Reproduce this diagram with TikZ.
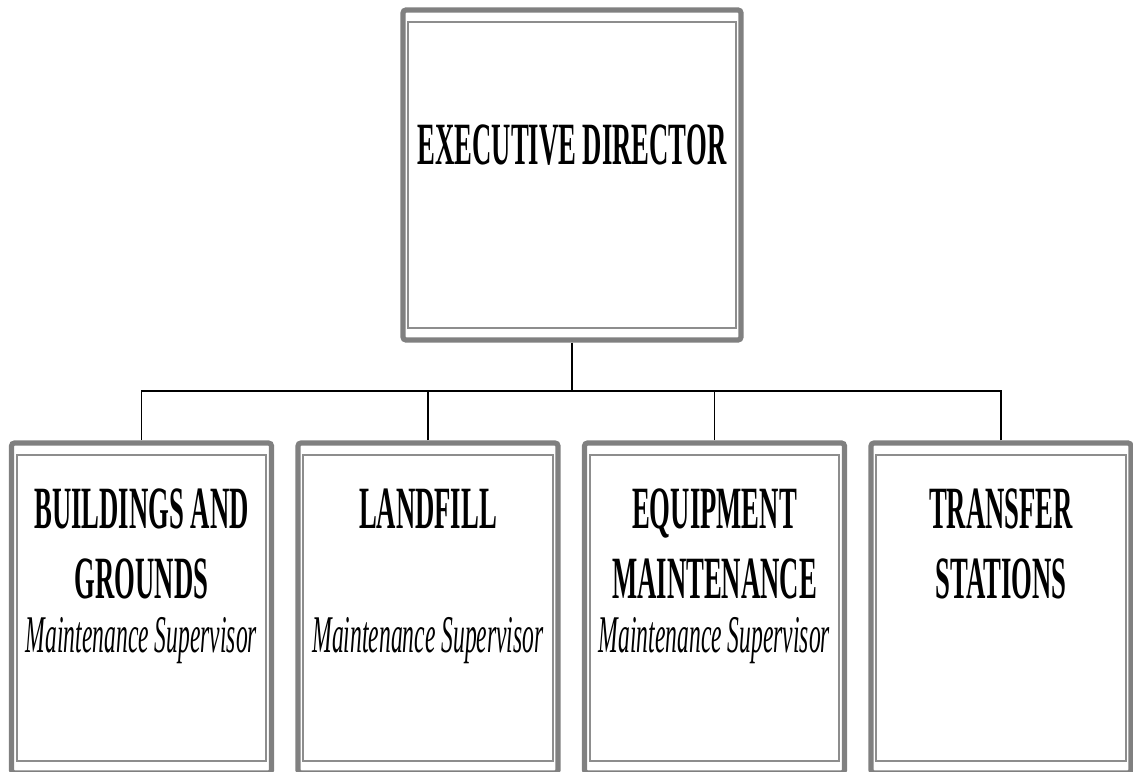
\documentclass[tikz,border=0pt]{standalone}
\usepackage{fontspec}
\newfontfamily\orgfont[FakeStretch=0.445]{Liberation Serif}
\definecolor{framegray}{RGB}{128,128,128}

\begin{document}
\begin{tikzpicture}[x=0.5pt, y=-0.5pt,
		outerframe/.style={draw=framegray, line width=2.6pt, rounded corners=1.5pt, minimum height=165pt},
		innerframe/.style={draw=framegray!90, line width=1pt},
		link/.style={draw=black, line width=0.8pt},
		headtext/.style={font=\orgfont\bfseries\fontsize{30}{35}\selectfont, align=center, inner sep=0pt, anchor=north},
		subtext/.style={font=\orgfont\itshape\fontsize{26.5}{30}\selectfont, inner sep=0pt, anchor=base}
		]
		\path[use as bounding box, clip] (0,0) rectangle (1133,771);
		
		% ---- CAJAS ----
		\node[outerframe, minimum width=169pt] (ed) at (572, 175) {};
		\node[outerframe, minimum width=130pt] (bg) at (141.5, 608) {};
		\node[outerframe, minimum width=130pt] (lf) at (428, 608) {};
		\node[outerframe, minimum width=130pt] (em) at (714.5, 608) {};
		\node[outerframe, minimum width=130pt] (ts) at (1001, 608) {};
		
		% ---- MARCOS INTERIORES ----
		\foreach \b in {ed, bg, lf, em, ts}
			\draw[innerframe] ([shift={(8,14.5)}]\b.north west) rectangle ([shift={(-8,-14.5)}]\b.south east);
		
		% ---- TEXTOS ----
		\node[headtext] (edT) at (572, 124) {EXECUTIVE DIRECTOR};
		\node[headtext] (bgT) at (141.5, 488) {BUILDINGS AND\\GROUNDS};
		\node[headtext] (lfT) at (428, 488) {LANDFILL};
		\node[headtext] (emT) at (714.5, 488) {EQUIPMENT\\MAINTENANCE};
		\node[headtext] (tsT) at (1001, 488) {TRANSFER\\STATIONS};
		
		\node[subtext] (bgS) at (141.5, 652) {Maintenance Supervisor};
		\node[subtext] (lfS) at (428, 652) {Maintenance Supervisor};
		\node[subtext] (emS) at (714.5, 652) {Maintenance Supervisor};
		
		% ---- CONEXIONES ----
		\coordinate (hub) at (572, 391);
		\path[link] (ed.south) -- (hub);
		\path[link] (bg.north) |- (hub);
		\path[link] (lf.north) |- (hub);
		\path[link] (em.north) |- (hub);
		\path[link] (ts.north) |- (hub);
		
	\end{tikzpicture}
\end{document}
